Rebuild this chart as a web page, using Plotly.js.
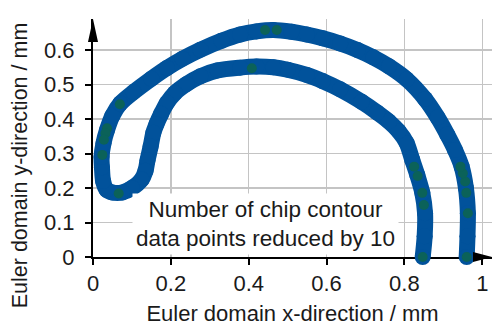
<!DOCTYPE html>
<html>
<head>
<meta charset="utf-8">
<script src="https://cdn.plot.ly/plotly-3.0.1.min.js"></script>
<style>html,body{margin:0;padding:0;background:#fff;}#chart{width:494px;height:327px;}</style>
</head>
<body>
<div id="chart"></div>
<script>
// Chip contour (centre line of the dense data band)
const contourX = [0.847,0.852,0.853,0.846,0.833,0.82,0.806,0.785,0.76,0.73,0.69,0.635,0.59,0.549,0.50,0.463,0.42,0.378,0.32,0.276,0.24,0.21,0.19,0.175,0.163,0.155,0.148,0.14,0.135,0.125,0.10,0.075,0.05,0.035,0.026,0.023,0.022,0.027,0.036,0.05,0.07,0.104,0.15,0.19,0.23,0.276,0.33,0.378,0.42,0.463,0.51,0.549,0.59,0.635,0.68,0.72,0.76,0.806,0.853,0.885,0.91,0.93,0.947,0.958,0.963,0.962,0.96];
const contourY = [0.0,0.06,0.127,0.186,0.238,0.282,0.33,0.365,0.393,0.419,0.45,0.486,0.51,0.528,0.543,0.55,0.552,0.549,0.541,0.524,0.501,0.475,0.447,0.415,0.385,0.36,0.32,0.28,0.25,0.225,0.20,0.187,0.187,0.195,0.22,0.26,0.29,0.33,0.368,0.41,0.445,0.478,0.517,0.548,0.575,0.601,0.627,0.645,0.654,0.658,0.653,0.645,0.634,0.619,0.600,0.579,0.553,0.515,0.458,0.405,0.355,0.31,0.262,0.2,0.127,0.06,0.0];

// Reduced point set (every 10th point) visible on top of the band
const reducedX = [0.847,0.850,0.846,0.834,0.825,0.960,0.963,0.959,0.956,0.950,0.944,0.069,0.036,0.032,0.028,0.024,0.066,0.408,0.442,0.472];
const reducedY = [0.0,0.151,0.186,0.235,0.262,0.0,0.127,0.186,0.219,0.243,0.262,0.443,0.373,0.359,0.34,0.296,0.184,0.547,0.658,0.658];

const xTickVals = [0,0.2,0.4,0.6,0.8,1];
const xTickText = ["0","0.2","0.4","0.6","0.8","1"];
const yTickVals = [0,0.1,0.2,0.3,0.4,0.5,0.6];
const yTickText = ["0","0.1","0.2","0.3","0.4","0.5","0.6"];

const blue = '#01529b';
const green = '#0b6259';
const font = 'Liberation Sans, Arial, sans-serif';
const txt = '#1a1a1a';

const traces = [
  {x: contourX, y: contourY, type: 'scatter', mode: 'lines+markers',
   line: {color: blue, width: 16, shape: 'spline', smoothing: 0.8},
   marker: {color: blue, size: 16}, cliponaxis: false, hoverinfo: 'skip'},
  {x: reducedX, y: reducedY, type: 'scatter', mode: 'markers',
   marker: {color: green, size: 10}, cliponaxis: false, hoverinfo: 'skip'}
];

const layout = {
  width: 494, height: 327,
  margin: {l: 92.5, r: 2, t: 19, b: 69.7},
  paper_bgcolor: '#fff', plot_bgcolor: '#fff',
  showlegend: false,
  font: {family: font, size: 22, color: txt},
  xaxis: {range: [0, 1.025], tickvals: xTickVals, ticktext: xTickText,
    showgrid: true, gridcolor: '#c4c4c4', gridwidth: 1.5, zeroline: false,
    showline: true, linecolor: '#000', linewidth: 2, layer: 'below traces',
    ticks: 'outside', ticklen: 6, tickwidth: 2, tickcolor: '#000',
    tickfont: {size: 22, family: font, color: txt},
    title: {text: 'Euler domain x-direction / mm', font: {size: 22, family: font, color: txt}, standoff: 10},
    fixedrange: true},
  yaxis: {range: [0, 0.69], tickvals: yTickVals, ticktext: yTickText,
    showgrid: true, gridcolor: '#c4c4c4', gridwidth: 1.5, zeroline: false,
    showline: true, linecolor: '#000', linewidth: 2, layer: 'below traces',
    ticks: 'outside', ticklen: 6, tickwidth: 2, tickcolor: '#000',
    ticklabelstandoff: 6,
    tickfont: {size: 22, family: font, color: txt},
    fixedrange: true},
  shapes: [
    {type: 'path', xref: 'paper', yref: 'paper', xsizemode: 'pixel', ysizemode: 'pixel',
     xanchor: 0, yanchor: 1, path: 'M -5 -23 L 5 -23 L 0 0 Z',
     fillcolor: '#000', line: {width: 0}},
    {type: 'path', xref: 'paper', yref: 'paper', xsizemode: 'pixel', ysizemode: 'pixel',
     xanchor: 1, yanchor: 0, path: 'M -19 -5 L -19 5 L 0 0 Z',
     fillcolor: '#000', line: {width: 0}}
  ],
  annotations: [
    {x: 0.442, y: 0.095, xref: 'x', yref: 'y', showarrow: false,
     text: 'Number of chip contour<br>data points reduced by 10',
     font: {size: 22.5, family: font, color: txt},
     bgcolor: '#fff', borderpad: 3, align: 'center'},
    {x: -0.182, y: 0.387, xref: 'paper', yref: 'paper', showarrow: false,
     textangle: -90, xanchor: 'center', yanchor: 'middle',
     text: 'Euler domain y-direction / mm',
     font: {size: 21.5, family: font, color: txt}}
  ]
};

Plotly.newPlot('chart', traces, layout, {displayModeBar: false, staticPlot: true});
</script>
</body>
</html>
